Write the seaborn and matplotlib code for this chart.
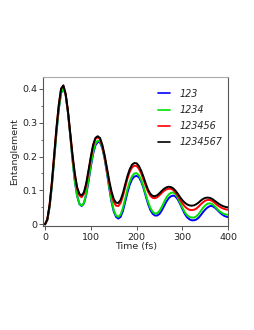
import numpy as np
import pandas as pd
import matplotlib
matplotlib.use("Agg")
import matplotlib.pyplot as plt
from matplotlib.ticker import MultipleLocator, FuncFormatter
import seaborn as sns

# Temps (fs), pas de 5 fs
time_fs = list(range(0, 405, 5))

ent_123 = [
    0.000, 0.013, 0.052, 0.115, 0.193, 0.272, 0.340, 0.387, 0.402, 0.382,
    0.330, 0.262, 0.190, 0.128, 0.084, 0.060, 0.054, 0.062, 0.088, 0.127,
    0.170, 0.208, 0.233, 0.243, 0.242, 0.225, 0.194, 0.153, 0.108, 0.067,
    0.038, 0.022, 0.017, 0.022, 0.039, 0.066, 0.094, 0.117, 0.133, 0.141,
    0.143, 0.139, 0.126, 0.107, 0.083, 0.060, 0.042, 0.031, 0.026, 0.026,
    0.031, 0.041, 0.054, 0.067, 0.077, 0.083, 0.085, 0.082, 0.073, 0.060,
    0.045, 0.031, 0.021, 0.015, 0.012, 0.012, 0.014, 0.019, 0.027, 0.036,
    0.044, 0.050, 0.054, 0.054, 0.050, 0.044, 0.037, 0.031, 0.026, 0.023,
    0.021,
]
ent_1234 = [
    0.000, 0.013, 0.052, 0.115, 0.193, 0.272, 0.340, 0.387, 0.402, 0.382,
    0.330, 0.262, 0.190, 0.128, 0.084, 0.061, 0.055, 0.064, 0.091, 0.131,
    0.175, 0.213, 0.238, 0.247, 0.245, 0.228, 0.197, 0.156, 0.112, 0.071,
    0.042, 0.026, 0.022, 0.029, 0.048, 0.076, 0.104, 0.126, 0.142, 0.150,
    0.151, 0.145, 0.131, 0.111, 0.088, 0.066, 0.048, 0.037, 0.032, 0.033,
    0.040, 0.052, 0.066, 0.079, 0.088, 0.093, 0.094, 0.089, 0.078, 0.064,
    0.049, 0.036, 0.027, 0.022, 0.020, 0.020, 0.023, 0.030, 0.039, 0.049,
    0.056, 0.061, 0.062, 0.060, 0.054, 0.047, 0.040, 0.035, 0.031, 0.029,
    0.028,
]
ent_123456 = [
    0.000, 0.015, 0.058, 0.125, 0.205, 0.285, 0.352, 0.400, 0.409, 0.384,
    0.333, 0.268, 0.202, 0.146, 0.106, 0.085, 0.080, 0.090, 0.117, 0.156,
    0.196, 0.232, 0.252, 0.257, 0.252, 0.231, 0.200, 0.162, 0.123, 0.090,
    0.066, 0.055, 0.054, 0.063, 0.083, 0.109, 0.135, 0.155, 0.168, 0.173,
    0.172, 0.164, 0.150, 0.132, 0.113, 0.096, 0.084, 0.078, 0.077, 0.080,
    0.086, 0.093, 0.099, 0.103, 0.105, 0.105, 0.101, 0.094, 0.084, 0.073,
    0.062, 0.053, 0.047, 0.043, 0.042, 0.043, 0.046, 0.052, 0.059, 0.065,
    0.070, 0.072, 0.072, 0.069, 0.064, 0.058, 0.053, 0.049, 0.046, 0.044,
    0.043,
]
ent_1234567 = [
    0.000, 0.015, 0.058, 0.125, 0.205, 0.285, 0.352, 0.400, 0.410, 0.385,
    0.335, 0.270, 0.205, 0.150, 0.110, 0.090, 0.085, 0.095, 0.122, 0.160,
    0.200, 0.235, 0.255, 0.260, 0.255, 0.235, 0.205, 0.168, 0.130, 0.098,
    0.075, 0.064, 0.063, 0.072, 0.092, 0.118, 0.143, 0.163, 0.176, 0.181,
    0.180, 0.172, 0.158, 0.140, 0.120, 0.102, 0.090, 0.084, 0.083, 0.086,
    0.092, 0.099, 0.105, 0.109, 0.111, 0.110, 0.106, 0.099, 0.090, 0.080,
    0.071, 0.064, 0.059, 0.056, 0.055, 0.056, 0.059, 0.064, 0.070, 0.075,
    0.078, 0.079, 0.078, 0.075, 0.070, 0.065, 0.060, 0.056, 0.053, 0.051,
    0.050,
]

labels = ["123", "1234", "123456", "1234567"]
colors = ["#0000ff", "#00e000", "#ff0000", "#000000"]
series = [ent_123, ent_1234, ent_123456, ent_1234567]

df = pd.concat(
    [pd.DataFrame({"t": time_fs, "E": s, "sys": lab}) for s, lab in zip(series, labels)],
    ignore_index=True,
)

sns.set_style("ticks")
plt.rcParams["font.family"] = ["DejaVu Sans"]
plt.rcParams["font.size"] = 6.8

fig = plt.figure(figsize=(2.55, 3.3), dpi=100)
ax = fig.add_axes([0.170, 0.314, 0.725, 0.453])

sns.lineplot(data=df, x="t", y="E", hue="sys", hue_order=labels,
             palette=colors, linewidth=1.4, ax=ax, legend=False)

ax.set_xlim(-3.7, 400)
ax.set_ylim(-0.006, 0.435)
ax.xaxis.set_major_locator(MultipleLocator(100))
ax.yaxis.set_major_locator(MultipleLocator(0.1))
ax.yaxis.set_minor_locator(MultipleLocator(0.05))
ax.yaxis.set_major_formatter(FuncFormatter(lambda v, p: f"{v:g}"))
ax.tick_params(which="major", length=3, width=0.7, color="#555555",
               labelsize=6.8, labelcolor="#222222", pad=1.5)
ax.tick_params(which="minor", length=1.8, width=0.6, color="#555555")

for side in ["left", "bottom", "right"]:
    ax.spines[side].set_color("#555555")
    ax.spines[side].set_linewidth(0.8)
ax.spines["top"].set_color("#aaaaaa")
ax.spines["top"].set_linewidth(0.8)

ax.set_xlabel("Time (fs)", fontsize=6.8, labelpad=0.5)
ax.set_ylabel("Entanglement", fontsize=6.8, labelpad=2)

handles = [plt.Line2D([], [], color=c, lw=1.2) for c in colors]
leg = ax.legend(handles, labels, loc="upper left",
                bbox_to_anchor=(158 / 255, 1 - 88.7 / 330),
                bbox_transform=fig.transFigure, frameon=False,
                borderpad=0, borderaxespad=0, handlelength=1.25,
                handletextpad=0.95, labelspacing=0.65,
                prop={"style": "italic", "size": 6.9})

fig.savefig("out.png", dpi=100)
